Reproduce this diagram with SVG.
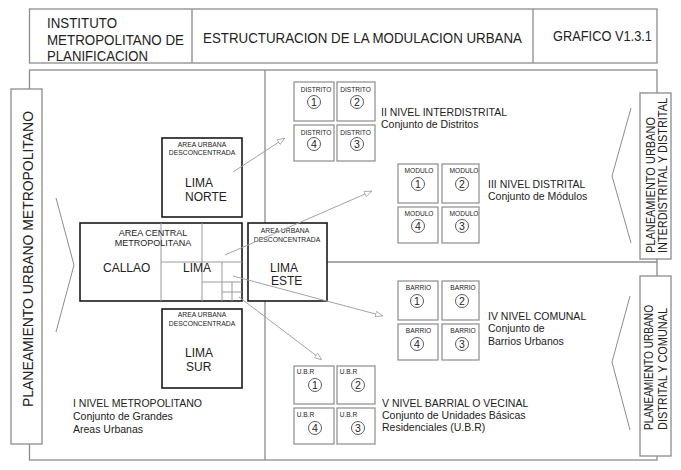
<svg xmlns="http://www.w3.org/2000/svg" width="681" height="470" viewBox="0 0 681 470">
<defs>
<style>
text{font-family:"Liberation Sans",Arial,sans-serif;fill:#222}
.frame{fill:none;stroke:#8c8c8c;stroke-width:1.3}
.lbl{fill:#fff;stroke:#8c8c8c;stroke-width:1.3}
.big{fill:#fff;stroke:#1a1a1a;stroke-width:1.6}
.cell{fill:#fff;stroke:#8c8c8c;stroke-width:1.2}
.inner{fill:none;stroke:#9a9a9a;stroke-width:1}
.circ{fill:none;stroke:#333;stroke-width:0.8}
.chev{fill:none;stroke:#8c8c8c;stroke-width:1}
.conn{fill:none;stroke:#a3a3a3;stroke-width:1;marker-end:url(#arr)}
.hd{font-size:14px}
.lv{font-size:10.5px}
.sm{font-size:6.6px;text-anchor:middle}
.cap{font-size:6.8px;text-anchor:middle}
.nm{font-size:12px}
.dg{font-size:10.5px;text-anchor:middle}
</style>
<marker id="arr" markerUnits="userSpaceOnUse" viewBox="0 0 10 8" refX="10" refY="4" markerWidth="8" markerHeight="6.4" orient="auto">
<path d="M0.5,0.5 L9.5,4 L0.5,7.5 Z" fill="#fff" stroke="#a3a3a3" stroke-width="1"/>
</marker>
</defs>
<rect width="681" height="470" fill="#fff"/>

<g id="header">
<rect class="frame" x="29.5" y="9" width="627.5" height="54"/>
<line class="frame" x1="192" y1="9" x2="192" y2="63"/>
<line class="frame" x1="533" y1="9" x2="533" y2="63"/>
<text class="hd" x="47" y="28" textLength="70" lengthAdjust="spacingAndGlyphs">INSTITUTO</text>
<text class="hd" x="47" y="45" textLength="137" lengthAdjust="spacingAndGlyphs">METROPOLITANO DE</text>
<text class="hd" x="47" y="61" textLength="101" lengthAdjust="spacingAndGlyphs">PLANIFICACION</text>
<text class="hd" x="203" y="43" textLength="319" lengthAdjust="spacingAndGlyphs">ESTRUCTURACION DE LA MODULACION URBANA</text>
<text class="hd" x="553" y="41" textLength="99" lengthAdjust="spacingAndGlyphs">GRAFICO V1.3.1</text>
</g>

<g id="frame">
<rect class="frame" x="29.5" y="70" width="627.5" height="390"/>
<line class="frame" x1="265" y1="70" x2="265" y2="460"/>
<line class="frame" x1="265" y1="262" x2="657" y2="262"/>
</g>

<g id="label-metropolitano">
<rect class="lbl" x="11" y="89" width="31" height="355"/>
<text font-size="15" transform="translate(33,407) rotate(-90)" textLength="296" lengthAdjust="spacingAndGlyphs">PLANEAMIENTO URBANO METROPOLITANO</text>
<polyline class="chev" points="56,198 74,265 56,332"/>
</g>

<g id="label-interdistrital">
<rect class="lbl" x="640" y="93" width="31" height="166"/>
<text font-size="12.5" transform="translate(655,253) rotate(-90)" textLength="136" lengthAdjust="spacingAndGlyphs">PLANEAMIENTO URBANO</text>
<text font-size="12.5" transform="translate(667,253) rotate(-90)" textLength="155" lengthAdjust="spacingAndGlyphs">INTERDISTRITAL  Y DISTRITAL</text>
<polyline class="chev" points="631,108 612,176 631,243"/>
</g>

<g id="label-comunal">
<rect class="lbl" x="640" y="276" width="31" height="180"/>
<text font-size="12.5" transform="translate(653,430) rotate(-90)" textLength="125" lengthAdjust="spacingAndGlyphs">PLANEAMIENTO URBANO</text>
<text font-size="12.5" transform="translate(667,430) rotate(-90)" textLength="122" lengthAdjust="spacingAndGlyphs">DISTRITAL  Y COMUNAL</text>
<polyline class="chev" points="630,296 612,362 630,430"/>
</g>

<g id="lima-norte">
<rect class="big" x="162" y="138" width="80" height="79"/>
<text class="cap" x="202" y="147">AREA URBANA</text>
<text class="cap" x="202" y="155">DESCONCENTRADA</text>
<text class="nm" x="185" y="187">LIMA</text>
<text class="nm" x="185" y="201">NORTE</text>
</g>

<g id="area-central">
<rect class="big" x="80" y="223" width="162" height="78"/>
<line class="inner" x1="161" y1="223" x2="161" y2="301"/>
<line class="inner" x1="202" y1="223" x2="202" y2="301"/>
<line class="inner" x1="161" y1="262" x2="242" y2="262"/>
<line class="inner" x1="222" y1="262" x2="222" y2="301"/>
<line class="inner" x1="202" y1="282" x2="242" y2="282"/>
<line class="inner" x1="232" y1="282" x2="232" y2="301"/>
<line class="inner" x1="222" y1="292" x2="242" y2="292"/>
<text font-size="9" text-anchor="middle" x="153" y="236">AREA CENTRAL</text>
<text font-size="9" text-anchor="middle" x="153" y="246">METROPOLITANA</text>
<text class="nm" x="103" y="272">CALLAO</text>
<text class="nm" x="183" y="272">LIMA</text>
</g>

<g id="lima-este">
<rect class="big" x="248" y="223" width="79" height="78"/>
<text class="cap" x="285" y="233">AREA URBANA</text>
<text class="cap" x="287" y="242">DESCONCENTRADA</text>
<text class="nm" x="270" y="272">LIMA</text>
<text class="nm" x="271" y="285">ESTE</text>
</g>

<g id="lima-sur">
<rect class="big" x="162" y="309" width="80" height="79"/>
<text class="cap" x="202" y="317">AREA URBANA</text>
<text class="cap" x="202" y="326">DESCONCENTRADA</text>
<text class="nm" x="185" y="357">LIMA</text>
<text class="nm" x="186" y="371">SUR</text>
</g>

<g id="nivel-1">
<text class="lv" x="73" y="407">I NIVEL METROPOLITANO</text>
<text class="lv" x="73" y="420">Conjunto de Grandes</text>
<text class="lv" x="73" y="433">Areas Urbanas</text>
</g>

<g id="distritos">
<rect class="cell" x="294" y="82" width="40" height="39"/>
<rect class="cell" x="337" y="82" width="38" height="39"/>
<rect class="cell" x="294" y="125" width="40" height="36"/>
<rect class="cell" x="337" y="125" width="38" height="36"/>
<text class="sm" x="316" y="92">DISTRITO</text>
<text class="sm" x="355.5" y="92">DISTRITO</text>
<text class="sm" x="316" y="135">DISTRITO</text>
<text class="sm" x="355.5" y="135">DISTRITO</text>
<circle class="circ" cx="314" cy="102" r="6.5"/><text class="dg" x="314" y="106">1</text>
<circle class="circ" cx="357" cy="102" r="6.5"/><text class="dg" x="357" y="106">2</text>
<circle class="circ" cx="314" cy="144" r="6.5"/><text class="dg" x="314" y="148">4</text>
<circle class="circ" cx="357" cy="144" r="6.5"/><text class="dg" x="357" y="148">3</text>
<text class="lv" x="381" y="116">II NIVEL INTERDISTRITAL</text>
<text class="lv" x="381" y="128">Conjunto de Distritos</text>
</g>

<g id="modulos">
<rect class="cell" x="398" y="164" width="40" height="39"/>
<rect class="cell" x="442" y="164" width="37" height="39"/>
<rect class="cell" x="398" y="207" width="40" height="36"/>
<rect class="cell" x="442" y="207" width="37" height="36"/>
<text class="sm" x="419" y="173">MODULO</text>
<text class="sm" x="464" y="173">MODULO</text>
<text class="sm" x="419" y="216">MODULO</text>
<text class="sm" x="464" y="216">MODULO</text>
<circle class="circ" cx="418" cy="184" r="6.5"/><text class="dg" x="418" y="188">1</text>
<circle class="circ" cx="462" cy="184" r="6.5"/><text class="dg" x="462" y="188">2</text>
<circle class="circ" cx="418" cy="226" r="6.5"/><text class="dg" x="418" y="230">4</text>
<circle class="circ" cx="462" cy="226" r="6.5"/><text class="dg" x="462" y="230">3</text>
<text class="lv" x="488" y="188">III NIVEL DISTRITAL</text>
<text class="lv" x="488" y="200">Conjunto de Módulos</text>
</g>

<g id="barrios">
<rect class="cell" x="398" y="281" width="40" height="39"/>
<rect class="cell" x="442" y="281" width="37" height="39"/>
<rect class="cell" x="398" y="324" width="40" height="36"/>
<rect class="cell" x="442" y="324" width="37" height="36"/>
<text class="sm" x="418.5" y="290">BARRIO</text>
<text class="sm" x="463" y="290">BARRIO</text>
<text class="sm" x="418.5" y="333">BARRIO</text>
<text class="sm" x="463" y="333">BARRIO</text>
<circle class="circ" cx="417" cy="301" r="6.5"/><text class="dg" x="417" y="305">1</text>
<circle class="circ" cx="462" cy="301" r="6.5"/><text class="dg" x="462" y="305">2</text>
<circle class="circ" cx="417" cy="344" r="6.5"/><text class="dg" x="417" y="348">4</text>
<circle class="circ" cx="462" cy="344" r="6.5"/><text class="dg" x="462" y="348">3</text>
<text class="lv" x="488" y="320">IV NIVEL COMUNAL</text>
<text class="lv" x="488" y="332">Conjunto de</text>
<text class="lv" x="488" y="345">Barrios Urbanos</text>
</g>

<g id="ubr">
<rect class="cell" x="294" y="366" width="40" height="38"/>
<rect class="cell" x="337" y="366" width="38" height="38"/>
<rect class="cell" x="294" y="408" width="40" height="36"/>
<rect class="cell" x="337" y="408" width="38" height="36"/>
<text class="sm" x="305.5" y="374">U.B.R</text>
<text class="sm" x="348.5" y="374">U.B.R</text>
<text class="sm" x="305.5" y="417">U.B.R</text>
<text class="sm" x="348.5" y="417">U.B.R</text>
<circle class="circ" cx="315" cy="385" r="6.5"/><text class="dg" x="315" y="389">1</text>
<circle class="circ" cx="358" cy="385" r="6.5"/><text class="dg" x="358" y="389">2</text>
<circle class="circ" cx="315" cy="428" r="6.5"/><text class="dg" x="315" y="432">4</text>
<circle class="circ" cx="358" cy="428" r="6.5"/><text class="dg" x="358" y="432">3</text>
<text class="lv" x="382" y="407">V NIVEL BARRIAL O VECINAL</text>
<text class="lv" x="382" y="419">Conjunto de Unidades Básicas</text>
<text class="lv" x="382" y="431">Residenciales (U.B.R)</text>
</g>

<g id="connectors">
<line class="conn" x1="233" y1="172" x2="285" y2="138"/>
<line class="conn" x1="225" y1="255" x2="372" y2="191"/>
<line class="conn" x1="233" y1="276" x2="383" y2="316"/>
<line class="conn" x1="239" y1="297" x2="322" y2="360"/>
</g>
</svg>
